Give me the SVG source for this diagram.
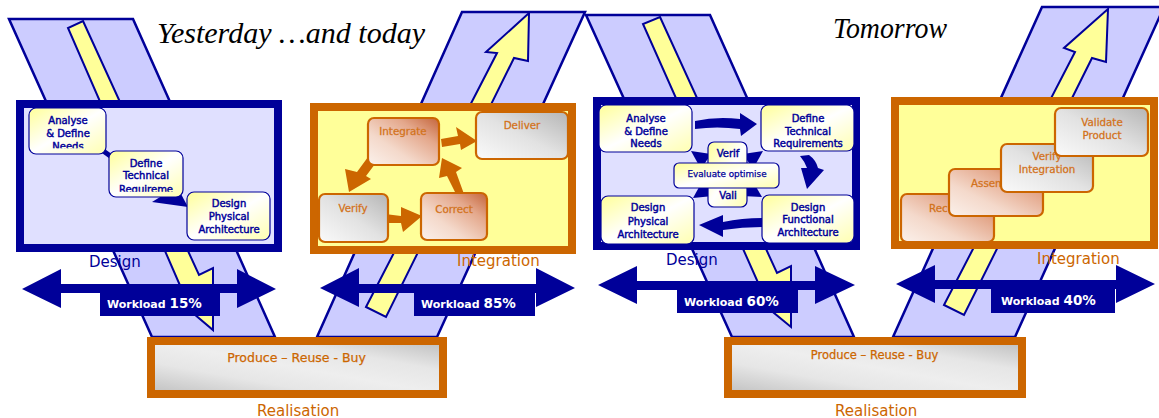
<svg xmlns="http://www.w3.org/2000/svg" width="1159" height="418" viewBox="0 0 1159 418">
<defs>
  <linearGradient id="gNode" x1="0" y1="0" x2="1" y2="1">
    <stop offset="0" stop-color="#FFFF99"/>
    <stop offset="0.5" stop-color="#FFFFFF"/>
    <stop offset="1" stop-color="#FFFFB0"/>
  </linearGradient>
  <linearGradient id="gRust" x1="1" y1="0" x2="0" y2="1">
    <stop offset="0" stop-color="#C4643A"/>
    <stop offset="0.3" stop-color="#E4A88C"/>
    <stop offset="0.65" stop-color="#F4D9CB"/>
    <stop offset="1" stop-color="#FBF1EB"/>
  </linearGradient>
  <linearGradient id="gGray" x1="0" y1="1" x2="1" y2="0">
    <stop offset="0" stop-color="#FAFAFA"/>
    <stop offset="0.5" stop-color="#E2E2E2"/>
    <stop offset="1" stop-color="#B5B5B5"/>
  </linearGradient>
  <linearGradient id="gReal" x1="0" y1="1" x2="1" y2="0">
    <stop offset="0" stop-color="#C0C0C0"/>
    <stop offset="0.3" stop-color="#E6E6E6"/>
    <stop offset="0.5" stop-color="#EEEEEE"/>
    <stop offset="0.72" stop-color="#E6E6E6"/>
    <stop offset="1" stop-color="#BDBDBD"/>
  </linearGradient>
  <clipPath id="clipNeeds"><rect x="20" y="100" width="100" height="48.3"/></clipPath>
  <clipPath id="clipReq"><rect x="100" y="150" width="100" height="41.8"/></clipPath>
</defs>
<style>
  .arm{fill:#CCCCFF;stroke:#000099;stroke-width:2.5;stroke-linejoin:miter}
  .beam{fill:#FFFF99;stroke:#000099;stroke-width:2;stroke-linejoin:miter}
  .dbox{fill:#E0E0FF;stroke:#000099;stroke-width:8}
  .ibox{fill:#FFFF99;stroke:#CC6600;stroke-width:8}
  .rbox{fill:url(#gReal);stroke:#CC6600;stroke-width:8}
  .dnode{fill:url(#gNode);stroke:#000099;stroke-width:1.2}
  .rust{fill:url(#gRust);stroke:#CC6600;stroke-width:2.2}
  .gray{fill:url(#gGray);stroke:#CC6600;stroke-width:2.2}
  .navy{fill:#000099}
  .orng{fill:#CC6600}
  text{font-family:"DejaVu Sans","Liberation Sans",sans-serif}
  .dt{font-size:10px;fill:#000099;stroke:#000099;stroke-width:0.45;text-anchor:middle}
  .it{font-size:10.3px;fill:#CC6600;stroke:#D9823F;stroke-width:0.3;text-anchor:middle}
  .lbl{font-size:15px}
  .lblD{fill:#000099}
  .lblI{fill:#CC6600}
  .prb{fill:#CC6600;stroke:#CC6600;stroke-width:0.25;text-anchor:middle}
  .wl{fill:#FFFFFF;font-weight:bold}
  .title{font-family:"Liberation Serif","DejaVu Serif",serif;font-style:italic;font-size:30px;fill:#000000}
</style>

<!-- V-shaped flow bands with their yellow direction beams -->
<g id="v-yesterday">
  <polygon class="arm" points="9,19 133,19 275,337 152,337"/>
  <polygon class="arm" points="462,12 585,12 437,337 317,337"/>
  <polygon class="beam" points="83,21 199,275 213,268 213,330 168,292 182,290 68,28"/>
  <polygon class="beam" points="366,307 497,53 486,52 529,13 528,61 514,58 386,317"/>
</g>
<g id="v-tomorrow">
  <polygon class="arm" points="586,15 710,15 854,337 732,337"/>
  <polygon class="arm" points="1042,7 1164,7 1015,337 893,337"/>
  <polygon class="beam" points="660,17 777,273 791,266 791,327 746,290 760,287 643,24"/>
  <polygon class="beam" points="944,305 1075,52 1064,48 1108,9 1106,62 1092,58 964,315"/>
</g>

<!-- Yesterday: design phase -->
<g id="design-yesterday">
  <rect class="dbox" x="20" y="104" width="258" height="144"/>
</g>
<g id="connectors-design-yesterday">
  <path d="M95,145 L120,163" stroke="#000099" stroke-width="5" fill="none"/>
  <polygon class="navy" points="152,202 165,194 181,194 188,207"/>
</g>
<g id="node-analyse-y">
  <rect class="dnode" x="29" y="108" width="77" height="46" rx="7"/>
  <text class="dt" clip-path="url(#clipNeeds)"><tspan x="68" y="124">Analyse</tspan><tspan x="68" y="136.7">&amp; Define</tspan><tspan x="68" y="149.5">Needs</tspan></text>
</g>
<g id="node-techreq-y">
  <rect class="dnode" x="109" y="151" width="74" height="46" rx="7"/>
  <text class="dt" clip-path="url(#clipReq)"><tspan x="146" y="166.7">Define</tspan><tspan x="146" y="179.3">Technical</tspan><tspan x="146" y="192.5">Requireme</tspan></text>
</g>
<g id="node-physarch-y">
  <rect class="dnode" x="187" y="192" width="83" height="48" rx="7"/>
  <text class="dt"><tspan x="229" y="207.3">Design</tspan><tspan x="229" y="220.3">Physical</tspan><tspan x="229" y="233.3">Architecture</tspan></text>
</g>

<!-- Yesterday: integration phase -->
<g id="integration-yesterday">
  <rect class="ibox" x="314" y="107" width="258" height="143"/>
</g>
<g id="connectors-integration-yesterday" class="orng">
  <polygon points="441,139 458,136 456,127 477,141 461,150 460,144 442,147"/>
  <polygon points="368,157 357,172 345,169 349,192 371,179 366,176 375,164"/>
  <polygon points="385,214 401,216 401,207 422,216 403,232 401,223 386,223"/>
  <polygon points="456,194 447,176 439,178 442,158 462,168 456,172 464,194"/>
</g>
<g id="node-integrate-y">
  <rect class="rust" x="368" y="118" width="71" height="47" rx="6"/>
  <text class="it" x="403" y="135">Integrate</text>
</g>
<g id="node-deliver-y">
  <rect class="gray" x="476" y="112" width="92" height="47" rx="6"/>
  <text class="it" x="522" y="129">Deliver</text>
</g>
<g id="node-verify-y">
  <rect class="gray" x="319" y="194" width="69" height="48" rx="6"/>
  <text class="it" x="353" y="212">Verify</text>
</g>
<g id="node-correct-y">
  <rect class="rust" x="421" y="193" width="66" height="47" rx="6"/>
  <text class="it" x="454" y="212.5">Correct</text>
</g>

<!-- Tomorrow: design phase -->
<g id="design-tomorrow">
  <rect class="dbox" x="597" y="101" width="259" height="145"/>
</g>
<g id="connectors-design-tomorrow" class="navy">
  <path d="M695,121 Q717,116 740,119 L740,113 L757,124 L741,136 L740,129 Q717,126 695,129 Z"/>
  <path d="M800,156 L809,155 Q816,160 818,168 L824,170 L807,189 L801,168 L807,168 Q805,162 800,156 Z"/>
  <path d="M762,218 Q742,218 723,222 L723,215 L699,225 L723,237 L723,230 Q742,227 762,227 Z"/>
  <polygon points="691,151 711,154 701,169"/>
  <polygon points="763,151 743,154 753,169"/>
  <polygon points="693,198 713,196 703,180"/>
  <polygon points="762,197 742,196 752,180"/>
</g>
<g id="node-analyse-t">
  <rect class="dnode" x="599" y="105" width="93" height="47" rx="7"/>
  <text class="dt"><tspan x="646" y="121.5">Analyse</tspan><tspan x="646" y="134.5">&amp; Define</tspan><tspan x="646" y="147">Needs</tspan></text>
</g>
<g id="node-techreq-t">
  <rect class="dnode" x="761" y="105" width="93" height="46" rx="7"/>
  <text class="dt"><tspan x="808" y="121.5">Define</tspan><tspan x="808" y="134.5">Technical</tspan><tspan x="808" y="146.6">Requirements</tspan></text>
</g>
<g id="node-physarch-t">
  <rect class="dnode" x="601" y="196" width="93" height="48" rx="7"/>
  <text class="dt"><tspan x="648" y="211.3">Design</tspan><tspan x="648" y="224.6">Physical</tspan><tspan x="648" y="237.5">Architecture</tspan></text>
</g>
<g id="node-funcarch-t">
  <rect class="dnode" x="762" y="195" width="92" height="48" rx="7"/>
  <text class="dt"><tspan x="808" y="210.6">Design</tspan><tspan x="808" y="223.3">Functional</tspan><tspan x="808" y="235.8">Architecture</tspan></text>
</g>
<g id="node-verif-vali-t">
  <rect class="dnode" x="708" y="142" width="39" height="65" rx="6"/>
  <text class="dt"><tspan x="728" y="156.6">Verif</tspan><tspan x="728" y="199">Vali</tspan></text>
</g>
<g id="node-evaluate-t">
  <rect class="dnode" x="674" y="163" width="105" height="25" rx="5"/>
  <text class="dt" x="727" y="176.5" style="font-size:8.8px;stroke-width:0.25">Evaluate optimise</text>
</g>

<!-- Tomorrow: integration phase -->
<g id="integration-tomorrow">
  <rect class="ibox" x="895" y="101" width="259" height="144"/>
</g>
<g id="node-rec-t">
  <rect class="rust" x="901" y="194" width="93" height="48" rx="6"/>
  <text class="it" x="929" y="211.7" style="text-anchor:start">Rec</text>
</g>
<g id="node-assem-t">
  <rect class="rust" x="949" y="169" width="94" height="47" rx="6"/>
  <text class="it" x="971" y="186.7" style="text-anchor:start">Assem</text>
</g>
<g id="node-verifyint-t">
  <rect class="gray" x="1001" y="144" width="92" height="48" rx="6"/>
  <text class="it"><tspan x="1047" y="160">Verify</tspan><tspan x="1047" y="173.3">Integration</tspan></text>
</g>
<g id="node-validate-t">
  <rect class="gray" x="1055" y="108" width="93" height="48" rx="6"/>
  <text class="it"><tspan x="1102" y="126">Validate</tspan><tspan x="1102" y="138.5">Product</tspan></text>
</g>

<!-- Workload double arrows -->
<g id="workload-15">
  <polygon class="navy" points="22,289 61,269 61,284 237,284 237,269 276,289 237,308 237,293 61,293 61,308"/>
  <rect class="navy" x="100" y="292" width="120" height="24"/>
  <text class="wl" x="107" y="308"><tspan font-size="11">Workload </tspan><tspan font-size="13.5">15%</tspan></text>
</g>
<g id="workload-85">
  <polygon class="navy" points="320,288 359,268 359,284 536,284 536,268 575,288 536,307 536,293 359,293 359,307"/>
  <rect class="navy" x="414" y="292" width="121" height="24"/>
  <text class="wl" x="421" y="308"><tspan font-size="11">Workload </tspan><tspan font-size="13.5">85%</tspan></text>
</g>
<g id="workload-60">
  <polygon class="navy" points="598,285 637,266 637,281 815,281 815,266 855,285 815,304 815,290 637,290 637,304"/>
  <rect class="navy" x="677" y="288" width="121" height="25"/>
  <text class="wl" x="684" y="306"><tspan font-size="11">Workload </tspan><tspan font-size="13.5">60%</tspan></text>
</g>
<g id="workload-40">
  <polygon class="navy" points="896,284 935,265 935,280 1116,280 1116,265 1155,284 1116,303 1116,289 935,289 935,303"/>
  <rect class="navy" x="991" y="288" width="124" height="25"/>
  <text class="wl" x="1001" y="305"><tspan font-size="11">Workload </tspan><tspan font-size="13.5">40%</tspan></text>
</g>

<!-- Realisation phase -->
<g id="realisation-yesterday">
  <rect class="rbox" x="151" y="341" width="292" height="53"/>
  <text class="prb" x="296.5" y="362" font-size="12.5">Produce – Reuse - Buy</text>
</g>
<g id="realisation-tomorrow">
  <rect class="rbox" x="728" y="341" width="294" height="53"/>
  <text class="prb" x="874.5" y="359" font-size="11.5">Produce – Reuse - Buy</text>
</g>

<!-- Phase labels -->
<g id="phase-labels" class="lbl">
  <text class="lblD" x="89" y="267">Design</text>
  <text class="lblI" x="457" y="266">Integration</text>
  <text class="lblI" x="257" y="416">Realisation</text>
  <text class="lblD" x="666" y="265">Design</text>
  <text class="lblI" x="1037" y="264">Integration</text>
  <text class="lblI" x="835" y="416">Realisation</text>
</g>

<!-- Titles -->
<text class="title" x="157" y="43" textLength="268" lengthAdjust="spacingAndGlyphs">Yesterday …and today</text>
<text class="title" x="833" y="38" textLength="114" lengthAdjust="spacingAndGlyphs">Tomorrow</text>
</svg>
